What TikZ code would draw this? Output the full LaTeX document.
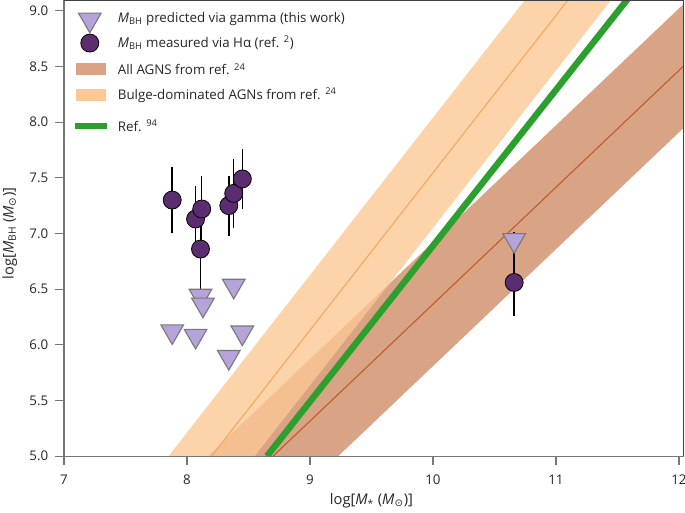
\documentclass[tikz,border=0pt]{standalone}
\usepackage{fontspec}
\setmainfont{Open Sans}
\newfontfamily\symfont{DejaVu Sans}
\usetikzlibrary{shapes.geometric}
\definecolor{brownband}{HTML}{D9A385}
\definecolor{orangeband}{HTML}{FDC894}
\definecolor{orangeline}{HTML}{F9A45C}
\definecolor{brownline}{HTML}{C05A28}
\definecolor{refgreen}{HTML}{2CA02C}
\definecolor{circ}{HTML}{5B2C6F}
\definecolor{tri}{HTML}{B6A3DA}
\definecolor{axisgray}{HTML}{777777}
\newcommand{\sunsym}{{\symfont ⊙}}
\tikzset{
 circpt/.style={circle,draw=black,fill=circ,minimum size=13.5pt,inner sep=0pt,line width=0.6pt},
 tript/.style={isosceles triangle,shape border rotate=-90,isosceles triangle apex angle=60,draw=axisgray,fill=tri,minimum width=17pt,inner sep=0pt,line width=0.8pt},
 lab/.style={font=\fontsize{10}{12}\selectfont,text=black!85},
 errbar/.style={line width=1.1pt,black}
}
\begin{document}
\begin{tikzpicture}[x=92.25pt,y=83.5pt]
\useasboundingbox (6.48,4.497) rectangle (12.049,9.097);
\begin{scope}
\clip (7,5) rectangle (12.04,9.097);
% brown band
\fill[brownband] (8.17,5) -- ({8.17+5/1.05},{5+5}) -- ({9.23+5/1.05},{5+5}) -- (9.23,5) -- cycle;
% orange band
\fill[orangeband,opacity=0.8] (7.85,5) -- ({7.85+5/1.414},10) -- ({8.55+5/1.414},10) -- (8.55,5) -- cycle;
\draw[orangeline,line width=0.8pt] (8.2,5) -- ({8.2+5/1.414},10);
\draw[brownline,line width=0.8pt] (8.70,5) -- ({8.70+5/1.05},10);
\draw[refgreen,line width=4.8pt] (8.65,5) -- ({8.65+5/1.40},10);
\end{scope}
% frame
\draw[axisgray,line width=0.8pt] (7,5) -- (12.04,5);
\draw[axisgray,line width=0.8pt] (7,5) -- (7,9.097);
\draw[black!75,line width=0.8pt] (7,9.097) -- (12.04,9.097) -- (12.04,5);
\foreach \x in {7,...,12}{
 \draw[axisgray,line width=0.8pt] (\x,5) -- ++(0,-0.08);
 \node[lab,anchor=north] (xt\x) at (\x,4.87) {\x};}
\foreach \y/\t in {5/5.0,5.5/5.5,6/6.0,6.5/6.5,7/7.0,7.5/7.5,8/8.0,8.5/8.5,9/9.0}{
 \draw[axisgray,line width=0.8pt] (7,\y) -- ++(-0.07,0);
 \node[lab,anchor=east] (yt\t) at (6.91,\y) {\t};}
\node[lab,font=\fontsize{11}{13}\selectfont] (xlab) at (9.5,4.6) {log[\textit{M}\textsubscript{*} (\textit{M}\textsubscript{\sunsym})]};
\node[lab,font=\fontsize{11}{13}\selectfont,rotate=90] (ylab) at (6.56,7) {log[\textit{M}\textsubscript{BH} (\textit{M}\textsubscript{\sunsym})]};
% error bars
\foreach \n/\x/\y/\lo/\hi in {a/7.88/7.30/7.0/7.60, b/8.07/7.13/6.83/7.43, c/8.12/7.22/6.83/7.52, d/8.11/6.86/6.45/7.2, e/8.34/7.25/6.98/7.52, f/8.38/7.36/7.05/7.67, g/8.45/7.49/7.22/7.76, h/10.66/6.56/6.26/7.01}{
 \coordinate (lo\n) at (\x,\lo); \coordinate (hi\n) at (\x,\hi);
 \draw[errbar] (lo\n) -- (hi\n);}
% triangles
\foreach \n/\x/\y in {1/7.88/6.12,2/8.07/6.08,3/8.11/6.44,4/8.13/6.36,5/8.38/6.53,6/8.45/6.11,7/8.34/5.89,8/10.66/6.94}{
 \node[tript] (t\n) at (\x,\y) {};}
% circles
\foreach \n/\x/\y in {a/7.88/7.30,b/8.07/7.13,c/8.12/7.22,d/8.11/6.86,e/8.34/7.25,f/8.38/7.36,g/8.45/7.49,h/10.66/6.56}{
 \node[circpt] (c\n) at (\x,\y) {};}
% legend
\node[tript] (lt) at (7.21,8.92) {};
\node[circpt] (lc) at (7.21,8.71) {};
\fill[brownband] (7.1,8.42) rectangle (7.34,8.53);
\fill[orangeband] (7.1,8.19) rectangle (7.34,8.30);
\fill[refgreen] (7.09,7.935) rectangle (7.35,7.995);
\node[lab,anchor=west] (l1) at (7.4,8.925) {\textit{M}\textsubscript{BH} predicted via gamma (this work)};
\node[lab,anchor=west] (l2) at (7.4,8.715) {\textit{M}\textsubscript{BH} measured via Hα (ref. \textsuperscript{2})};
\node[lab,anchor=west] (l3) at (7.4,8.475) {All AGNS from ref. \textsuperscript{24}};
\node[lab,anchor=west] (l4) at (7.4,8.245) {Bulge-dominated AGNs from ref. \textsuperscript{24}};
\node[lab,anchor=west] (l5) at (7.4,7.97) {Ref. \textsuperscript{94}};
\end{tikzpicture}
\end{document}
